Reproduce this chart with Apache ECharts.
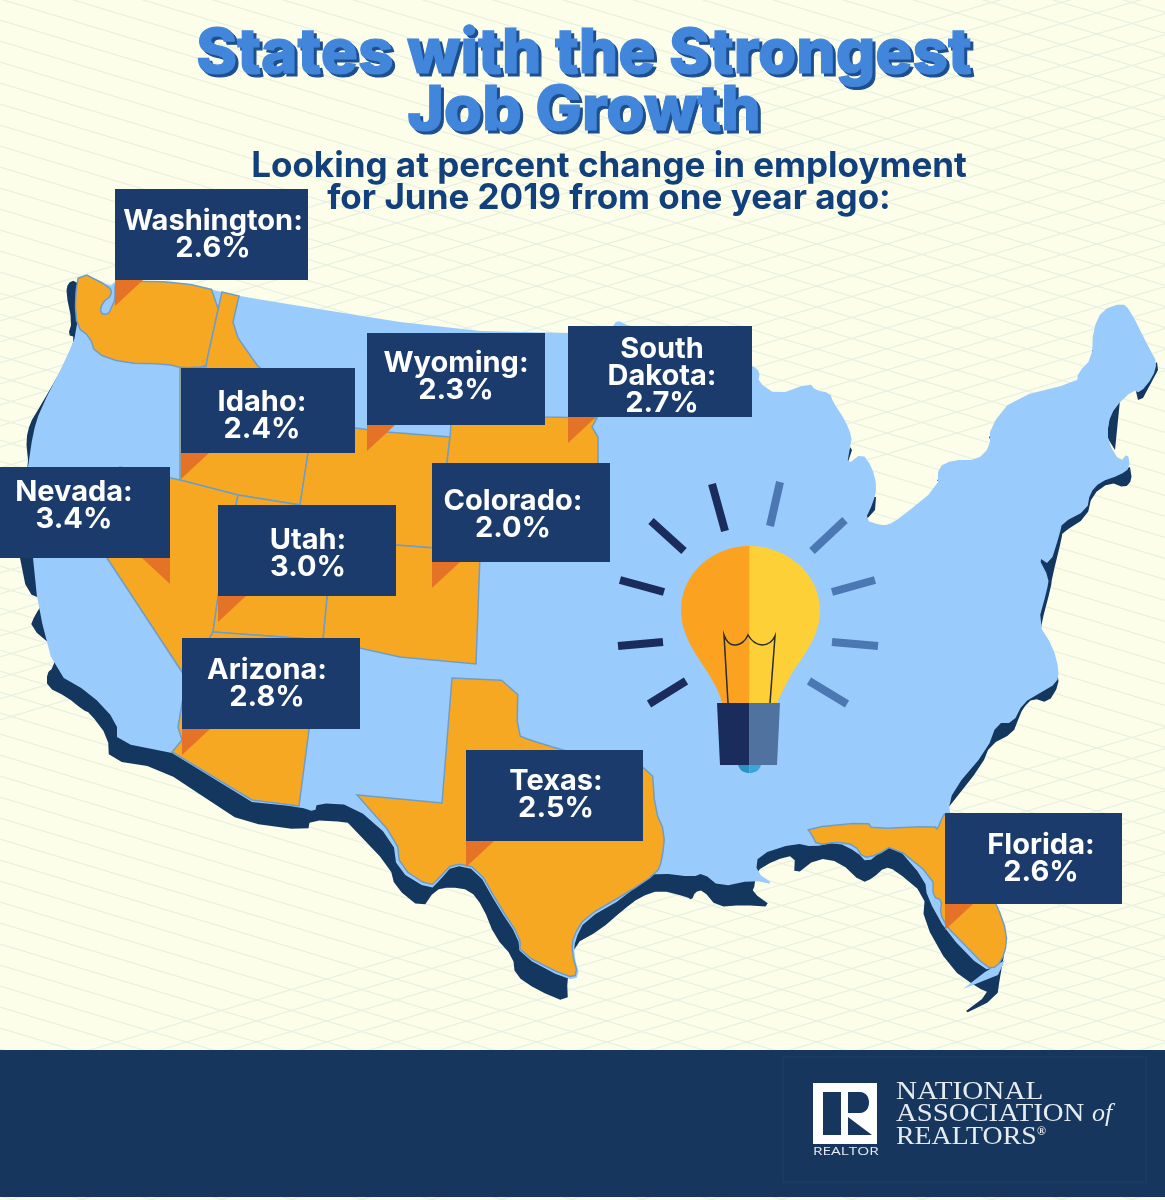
<!DOCTYPE html>
<html lang="en">
<head>
<meta charset="UTF-8">
<title>States with the Strongest Job Growth</title>
<style>
    html, body { margin: 0; padding: 0; background: #fdfee9; }
    #chart { width: 1165px; height: 1200px; }
</style>
<script src="https://cdn.jsdelivr.net/npm/echarts@6/dist/echarts.min.js"></script>
</head>
<body>
<div id="chart"></div>
<script>
// values
var stateNames = ['Washington', 'Idaho', 'Nevada', 'Utah', 'Arizona', 'Wyoming', 'Colorado', 'South Dakota', 'Texas', 'Florida'];
var growth = [2.6, 2.4, 3.4, 3.0, 2.8, 2.3, 2.0, 2.7, 2.5, 2.6];

// label boxes: x, y, w, h, text centre x, text centre y
var boxX = [115, 181, 0, 218, 182, 367, 432, 568, 466, 945];
var boxY = [189, 368, 467, 505, 638, 333, 463, 326, 750, 813];
var boxW = [193, 174, 170, 178, 178, 178, 178, 184, 177, 177];
var boxH = [91, 85, 91, 91, 91, 92, 99, 91, 91, 91];
var textX = [213, 262, 74, 308, 267, 456, 513, 662, 556, 1041];
var textY = [235, 416, 506, 554, 684, 377, 515, 376, 795, 859];

// outlines in page pixels
var usaOutline = [[79,271],[110,287],[115,281],[180,282],[222,292],[239,296],[300,306],[350,314],[400,322],[480,331],[570,333],[612,328],[617,320],[627,325],[700,345],[752,365],[760,372],[758,382],[777,395],[810,383],[815,390],[830,393],[833,402],[845,420],[852,437],[850,447],[847,465],[862,453],[872,467],[877,487],[873,503],[865,520],[880,525],[888,525],[900,518],[938,487],[938,467],[953,460],[977,460],[990,447],[990,427],[1013,398],[1077,382],[1078,373],[1092,358],[1093,330],[1102,310],[1122,303],[1130,310],[1150,350],[1157,362],[1153,377],[1140,393],[1133,390],[1115,407],[1108,423],[1108,442],[1120,462],[1128,453],[1130,468],[1120,475],[1100,482],[1090,493],[1087,510],[1062,523],[1060,533],[1050,565],[1038,557],[1049,578],[1047,590],[1038,623],[1053,647],[1059,670],[1057,683],[1040,693],[1023,703],[1013,723],[997,723],[987,750],[953,790],[948,812],[960,850],[985,885],[997,905],[1007,933],[1005,953],[997,967],[983,970],[947,933],[927,897],[925,880],[895,845],[883,850],[867,863],[857,852],[837,842],[813,847],[795,843],[758,855],[756,872],[775,885],[753,880],[720,887],[703,873],[693,877],[660,873],[640,878],[627,896],[585,920],[575,940],[574,955],[580,977],[567,980],[520,955],[518,937],[498,907],[477,870],[453,865],[440,880],[430,890],[397,870],[393,840],[353,805],[317,803],[315,812],[300,807],[252,802],[172,753],[117,742],[117,722],[90,693],[55,673],[38,607],[33,558],[28,467],[33,433],[40,410],[67,357],[77,332],[77,300]];
var keysOutline = [[1005,960],[998,975],[963,989],[985,972]];
var shadowMain = [[75,280],[68,283],[66,293],[72,322],[68,335],[75,337],[67,360],[38,410],[30,423],[26,440],[28,460],[20,558],[27,593],[45,600],[35,615],[30,627],[57,650],[53,668],[47,673],[47,687],[67,697],[83,710],[90,713],[108,737],[109,760],[160,768],[213,803],[242,822],[308,831],[310,820],[347,822],[350,825],[390,867],[395,887],[422,909],[435,890],[450,887],[470,890],[483,907],[495,937],[513,957],[515,975],[537,990],[568,1003],[567,980],[573,945],[600,930],[623,910],[640,897],[660,890],[687,897],[692,900],[695,892],[703,890],[717,907],[743,905],[773,907],[752,892],[755,885],[755,872],[775,860],[795,855],[794,876],[817,858],[840,862],[862,883],[873,878],[885,867],[895,870],[925,895],[923,920],[950,968],[978,988],[990,993],[958,1017],[997,998],[1000,977],[1005,950],[990,900],[948,808],[982,765],[990,745],[1013,733],[1018,720],[1023,708],[1033,698],[1048,703],[1059,685],[1057,670],[1040,640],[1041,625],[1051,587],[1052,578],[1062,537],[1062,533],[1087,517],[1092,495],[1110,482],[1125,488],[1132,480],[1130,467],[1000,520],[800,560],[400,400],[100,300]];
var shadowBits = [
    [[1107,437],[1110,410],[1135,387],[1138,400],[1143,398],[1158,370],[1157,362],[1120,400],[1115,450]],
    [[815,405],[830,402],[833,413]],
    [[843,467],[850,447],[852,450],[847,465]],
    [[863,520],[870,497],[876,497],[875,510],[866,520]],
    [[937,480],[942,478],[941,485]],
    [[989,437],[994,432],[993,445]],
    [[1092,350],[1094,350],[1093,358]],
    [[752,380],[758,380],[752,385]]
];
var stateOutlines = {
    'Washington': [[79,271],[110,287],[112,295],[102,303],[100,313],[108,315],[112,306],[115,300],[115,281],[180,282],[222,292],[207,360],[206,367],[182,368],[167,364],[123,363],[95,353],[90,337],[77,327],[75,300]],
    'Idaho': [[222,292],[239,296],[233,322],[238,338],[257,365],[290,395],[308,425],[308,453],[300,505],[238,495],[180,480],[180,368],[206,367],[207,360]],
    'Nevada': [[120,467],[180,480],[238,495],[218,597],[213,632],[186,680],[182,672],[107,558]],
    'Utah': [[238,495],[300,505],[300,530],[333,537],[323,640],[213,632],[218,597]],
    'Arizona': [[213,632],[323,640],[309,730],[299,806],[252,800],[172,752],[182,740],[178,727],[186,680]],
    'Wyoming': [[308,425],[355,428],[387,432],[450,437],[447,463],[435,548],[395,545],[333,537],[300,530],[300,505],[308,453]],
    'Colorado': [[333,537],[395,545],[435,548],[480,555],[476,664],[400,657],[323,640]],
    'South Dakota': [[452,412],[545,417],[597,418],[592,427],[598,437],[598,480],[446,480],[447,463],[450,437]],
    'Texas': [[518,681],[452,678],[442,803],[357,795],[397,840],[400,867],[430,887],[440,877],[453,863],[478,868],[500,907],[520,937],[520,953],[567,977],[578,975],[572,953],[573,937],[585,917],[627,893],[657,873],[662,860],[665,833],[655,810],[652,765],[600,760],[559,749],[530,740],[517,735]],
    'Florida': [[807,828],[868,822],[872,829],[935,826],[937,830],[942,818],[945,813],[965,850],[985,885],[997,905],[1007,933],[1005,953],[997,967],[987,968],[960,940],[947,927],[940,913],[942,900],[933,897],[933,877],[893,845],[877,855],[863,858],[855,845],[837,842],[817,845],[812,835]]
};

function closed(ring) { return ring.concat([ring[0]]); }

// rounds the short coastal corners, long straight borders keep their sharp ends
function soften(ring) {
    var out = [];
    ring.forEach(function (p, i) {
        var a = ring[(i - 1 + ring.length) % ring.length], b = ring[(i + 1) % ring.length];
        var la = Math.hypot(p[0] - a[0], p[1] - a[1]), lb = Math.hypot(p[0] - b[0], p[1] - b[1]);
        if (la < 70 && lb < 70) {
            out.push([p[0] + (a[0] - p[0]) * 0.25, p[1] + (a[1] - p[1]) * 0.25]);
            out.push([p[0] + (b[0] - p[0]) * 0.25, p[1] + (b[1] - p[1]) * 0.25]);
        } else {
            out.push(p);
        }
    });
    return out;
}

var features = [
    {name: 'Frame', rings: [[[0,0],[1165,0],[1165,1200],[0,1200]]]},
    {name: 'Shadow', rings: [soften(shadowMain)].concat(shadowBits)},
    {name: 'USA', rings: [soften(usaOutline), keysOutline]}
];
stateNames.forEach(function (n) {
    var soft = n === 'Texas' || n === 'Florida' || n === 'Washington';
    features.push({name: n, rings: [soft ? soften(stateOutlines[n]) : stateOutlines[n]]});
});

echarts.registerMap('usa', {
    type: 'FeatureCollection',
    features: features.map(function (f) {
        return {
            type: 'Feature',
            properties: {name: f.name},
            geometry: {type: 'MultiPolygon', coordinates: f.rings.map(function (r) { return [closed(r)]; })}
        };
    })
});

var chart = echarts.init(document.getElementById('chart'));

// faint lattice behind everything
function renderLattice() {
    var lines = [];
    var style = {stroke: '#e7f0e1', lineWidth: 1.3};
    for (var c = -400; c < 1250; c += 21) {
        lines.push({type: 'line', shape: {x1: 0, y1: c, x2: 1165, y2: c + 1165 * 0.3}, style: style});
    }
    for (var d = 300; d < 1650; d += 21) {
        if (d > 740 && d < 1060) continue;
        lines.push({type: 'line', shape: {x1: 0, y1: d, x2: 1165, y2: d - 1165 * 0.3}, style: style});
    }
    return {type: 'group', children: lines};
}

function ray(x1, y1, x2, y2, color) {
    return {type: 'line', shape: {x1: x1, y1: y1, x2: x2, y2: y2}, style: {stroke: color, lineWidth: 8}};
}

function renderBulb() {
    var dark = '#1a2c5b', light = '#4b78b3';
    return {type: 'group', children: [
        ray(712,484,725,531,dark), ray(651,521,684,551,dark), ray(620,580,664,592,dark), ray(618,646,663,642,dark), ray(649,704,686,681,dark),
        ray(780,482,770,526,light), ray(845,520,812,551,light), ray(875,580,832,592,light), ray(878,646,832,642,light), ray(847,704,809,681,light),
        {type: 'path', shape: {pathData: 'M738 765 L749.5 765 L749.5 773 C744 773 740 771 738 765 Z'}, style: {fill: '#2b93c4'}},
        {type: 'path', shape: {pathData: 'M761 765 L749.5 765 L749.5 773 C755 773 759 771 761 765 Z'}, style: {fill: '#3aa5d8'}},
        {type: 'path', shape: {pathData: 'M749.5 546 C712 546 681 574 681 610 C681 636 697 655 708 673 C716 686 720 694 722 703 L749.5 703 Z'}, style: {fill: '#fba321'}},
        {type: 'path', shape: {pathData: 'M749.5 546 C787 546 820 574 820 610 C820 636 804 655 792 673 C785 686 781 694 777 703 L749.5 703 Z'}, style: {fill: '#fdd037'}},
        {type: 'path', shape: {pathData: 'M728 703 L724 635 Q728 646 736 645 Q744 644 748 635 Q753 644 762 645 Q771 645 775 636 L770 703'}, style: {fill: 'none', stroke: '#2b2b2b', lineWidth: 1.5}},
        {type: 'polygon', shape: {points: [[717,703],[749.5,703],[749.5,765],[720,765]]}, style: {fill: dark}},
        {type: 'polygon', shape: {points: [[749.5,703],[780,703],[777,765],[749.5,765]]}, style: {fill: '#50729f'}}
    ]};
}

function renderFooter() {
    var navy = '#16365e', serif = '26px "Liberation Serif"', ink = '#e5ebef';
    function word(text, x, y, sx) {
        return {type: 'text', x: x, y: y, scaleX: sx, style: {text: text, x: 0, y: 0, font: serif, fill: ink, verticalAlign: 'middle'}};
    }
    return {type: 'group', children: [
        {type: 'rect', shape: {x: 0, y: 1050, width: 1165, height: 147}, style: {fill: navy}},
        {type: 'rect', shape: {x: 783, y: 1057, width: 363, height: 125}, style: {fill: 'none', stroke: '#1c3e69', lineWidth: 1}},
        {type: 'rect', shape: {x: 813, y: 1083, width: 64, height: 61}, style: {fill: '#fff'}},
        {type: 'rect', shape: {x: 823, y: 1092, width: 18, height: 43}, style: {fill: navy}},
        {type: 'path', shape: {pathData: 'M848 1092 L860 1092 C872 1092 872 1113 860 1113 L848 1113 Z'}, style: {fill: navy}},
        {type: 'polygon', shape: {points: [[848,1117],[872,1135],[848,1135]]}, style: {fill: navy}},
        {type: 'text', x: 813, y: 1152, scaleX: 1.4, style: {text: 'REALTOR', x: 0, y: 0, font: '11px "Open Sans"', fill: ink, verticalAlign: 'middle'}},
        word('NATIONAL', 896, 1092, 1.12),
        word('ASSOCIATION', 896, 1114, 1.105),
        {type: 'text', style: {text: 'of', x: 1092, y: 1114, font: 'italic 26px "Liberation Serif"', fill: ink, verticalAlign: 'middle'}},
        word('REALTORS', 896, 1137, 1.07),
        {type: 'text', style: {text: '®', x: 1037, y: 1132, font: 'bold 12px "Liberation Serif"', fill: ink, verticalAlign: 'middle'}}
    ]};
}

function renderLabel(params, api) {
    var i = params.dataIndex;
    var tl = api.coord([boxX[i], boxY[i]]);
    var br = api.coord([boxX[i] + boxW[i], boxY[i] + boxH[i]]);
    // Nevada's pointer hangs off the right corner, the others off the left
    var cx = stateNames[i] === 'Nevada' ? br[0] : tl[0];
    var dir = stateNames[i] === 'Nevada' ? -1 : 1;
    var t = api.coord([textX[i], textY[i]]);
    return {type: 'group', children: [
        {type: 'polygon', shape: {points: [[cx, br[1]], [cx + dir * 28, br[1]], [cx, br[1] + 26]]}, style: {fill: '#e57327'}},
        {type: 'rect', shape: {x: tl[0], y: tl[1], width: br[0] - tl[0], height: br[1] - tl[1]}, style: {fill: '#1a3b6b'}},
        {type: 'text', style: {
            text: stateNames[i].replace(' ', '\n') + ':\n' + growth[i].toFixed(1) + '%',
            x: t[0], y: t[1], fill: '#fff', font: '700 29px Inter', align: 'center', verticalAlign: 'middle', lineHeight: 27
        }}
    ]};
}

var regionStyles = [
    {name: 'Frame', itemStyle: {areaColor: 'rgba(0,0,0,0)', borderWidth: 0}},
    {name: 'Shadow', itemStyle: {areaColor: '#14375f', borderWidth: 0}},
    {name: 'USA', itemStyle: {areaColor: '#99ccfc', borderWidth: 0}}
].concat(stateNames.map(function (n) {
    return {name: n, itemStyle: {areaColor: '#f7a823', borderColor: '#6e9dc8', borderWidth: 1.5}};
}));

var titleText = 'States with the Strongest\nJob Growth';

chart.setOption({
    animation: false,
    backgroundColor: '#fdfee9',
    title: [
        {
            text: titleText, left: 587, top: 29, textAlign: 'center', padding: 0,
            textStyle: {fontFamily: 'Inter', fontWeight: 800, fontSize: 62, lineHeight: 57, color: '#1d4f8f', textBorderColor: '#1d4f8f', textBorderWidth: 1.2}
        },
        {
            text: titleText, left: 584, top: 26, textAlign: 'center', padding: 0,
            textStyle: {fontFamily: 'Inter', fontWeight: 800, fontSize: 62, lineHeight: 57, color: '#4286dc', textBorderColor: '#4286dc', textBorderWidth: 1.2}
        },
        {
            text: 'Looking at percent change in employment\nfor June 2019 from one year ago:', left: 609, top: 150, textAlign: 'center', padding: 0,
            textStyle: {fontFamily: 'Inter', fontWeight: 700, fontSize: 35, lineHeight: 32, color: '#12407c'}
        }
    ],
    geo: {
        map: 'usa', z: 3, silent: true, roam: false,
        projection: {project: function (p) { return p; }, unproject: function (p) { return p; }},
        left: 0, top: 0, width: 1165, height: 1200,
        label: {show: false},
        regions: regionStyles
    },
    series: [
        {type: 'custom', name: 'lattice', coordinateSystem: 'none', z: 1, silent: true, data: [[0]], renderItem: renderLattice},
        {type: 'custom', name: 'bulb', coordinateSystem: 'none', z: 4, silent: true, data: [[0]], renderItem: renderBulb},
        {
            type: 'custom', name: 'growth', coordinateSystem: 'geo', z: 5, silent: true,
            data: boxX.map(function (x, i) { return [x, boxY[i], growth[i]]; }),
            renderItem: renderLabel
        },
        {type: 'custom', name: 'footer', coordinateSystem: 'none', z: 5, silent: true, data: [[0]], renderItem: renderFooter}
    ]
});
</script>
</body>
</html>
